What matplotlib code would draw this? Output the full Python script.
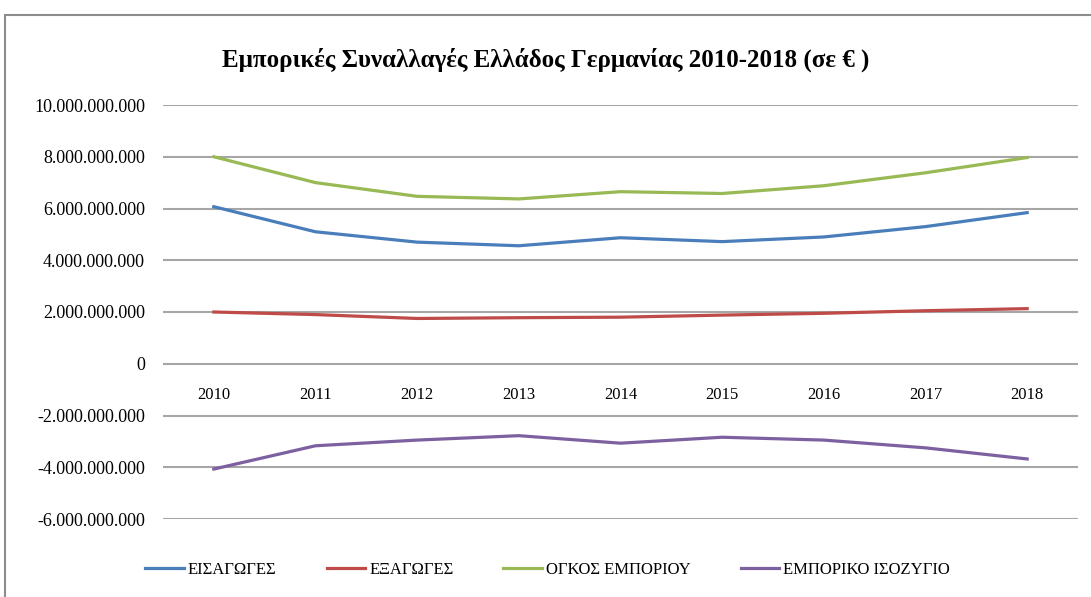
import matplotlib
matplotlib.use("Agg")
import matplotlib.pyplot as plt
from matplotlib.ticker import FuncFormatter
from matplotlib.patches import Rectangle

# ── Data (euro) ───────────────────────────────────────────────────────────────
years   = ["2010", "2011", "2012", "2013", "2014", "2015", "2016", "2017", "2018"]
imports = [6.07e9, 5.10e9, 4.70e9, 4.56e9, 4.87e9, 4.72e9, 4.90e9, 5.30e9, 5.84e9]
exports = [2.00e9, 1.90e9, 1.75e9, 1.78e9, 1.80e9, 1.88e9, 1.95e9, 2.05e9, 2.13e9]
volume  = [8.00e9, 7.00e9, 6.47e9, 6.37e9, 6.65e9, 6.58e9, 6.88e9, 7.38e9, 7.97e9]
balance = [-4.07e9, -3.17e9, -2.95e9, -2.78e9, -3.07e9, -2.84e9, -2.95e9, -3.25e9, -3.68e9]

series_names = ["ΕΙΣΑΓΩΓΕΣ", "ΕΞΑΓΩΓΕΣ", "ΟΓΚΟΣ ΕΜΠΟΡΙΟΥ", "ΕΜΠΟΡΙΚΟ ΙΣΟΖΥΓΙΟ"]
series_vals  = [imports, exports, volume, balance]
colors       = ["#4A7EBB", "#BE4B48", "#98B954", "#7D60A0"]

y_ticks = [-6e9, -4e9, -2e9, 0, 2e9, 4e9, 6e9, 8e9, 10e9]

plt.rcParams["font.family"] = ["Liberation Serif", "DejaVu Serif"]

fig = plt.figure(figsize=(10.91, 5.97), dpi=100)
ax = fig.add_axes([163 / 1091, 1 - 519 / 597, 915 / 1091, 414 / 597])

# outer chart frame
fig.patches.append(Rectangle((5 / 1091, -0.1), 1.2, 1 - 15 / 597 + 0.1,
                             transform=fig.transFigure, fill=False,
                             edgecolor="#8c8c8c", linewidth=1.5, zorder=0))

x = list(range(len(years)))
for name, vals, col in zip(series_names, series_vals, colors):
    ax.plot(x, vals, color=col, linewidth=2.3, label=name, zorder=3)

ax.set_xlim(-0.5, len(years) - 0.5)
ax.set_ylim(-6e9, 10e9)
ax.set_yticks(y_ticks)
ax.yaxis.set_major_formatter(FuncFormatter(lambda v, p: f"{v:,.0f}".replace(",", ".")))
ax.grid(axis="y", color="#a6a6a6", linewidth=1.5, zorder=1)

for s in ["top", "right", "left"]:
    ax.spines[s].set_visible(False)
ax.spines["bottom"].set_position(("data", 0))
ax.spines["bottom"].set_visible(False)

ax.set_xticks(x)
ax.set_xticklabels(years, fontsize=12)
ax.tick_params(axis="x", length=0, pad=17)
ax.tick_params(axis="y", length=0, pad=13, labelsize=13)

fig.text(0.5, 1 - 60 / 597, "Εμπορικές Συναλλαγές Ελλάδος Γερμανίας 2010-2018 (σε € )",
         ha="center", va="center", fontsize=18, fontweight="bold")

fig.legend(loc="center", bbox_to_anchor=(0.502, 1 - 570 / 597), ncol=4,
           frameon=False, fontsize=12, handlelength=2.3, columnspacing=3.0,
           handletextpad=0.25)

fig.savefig("out.png", dpi=100)
